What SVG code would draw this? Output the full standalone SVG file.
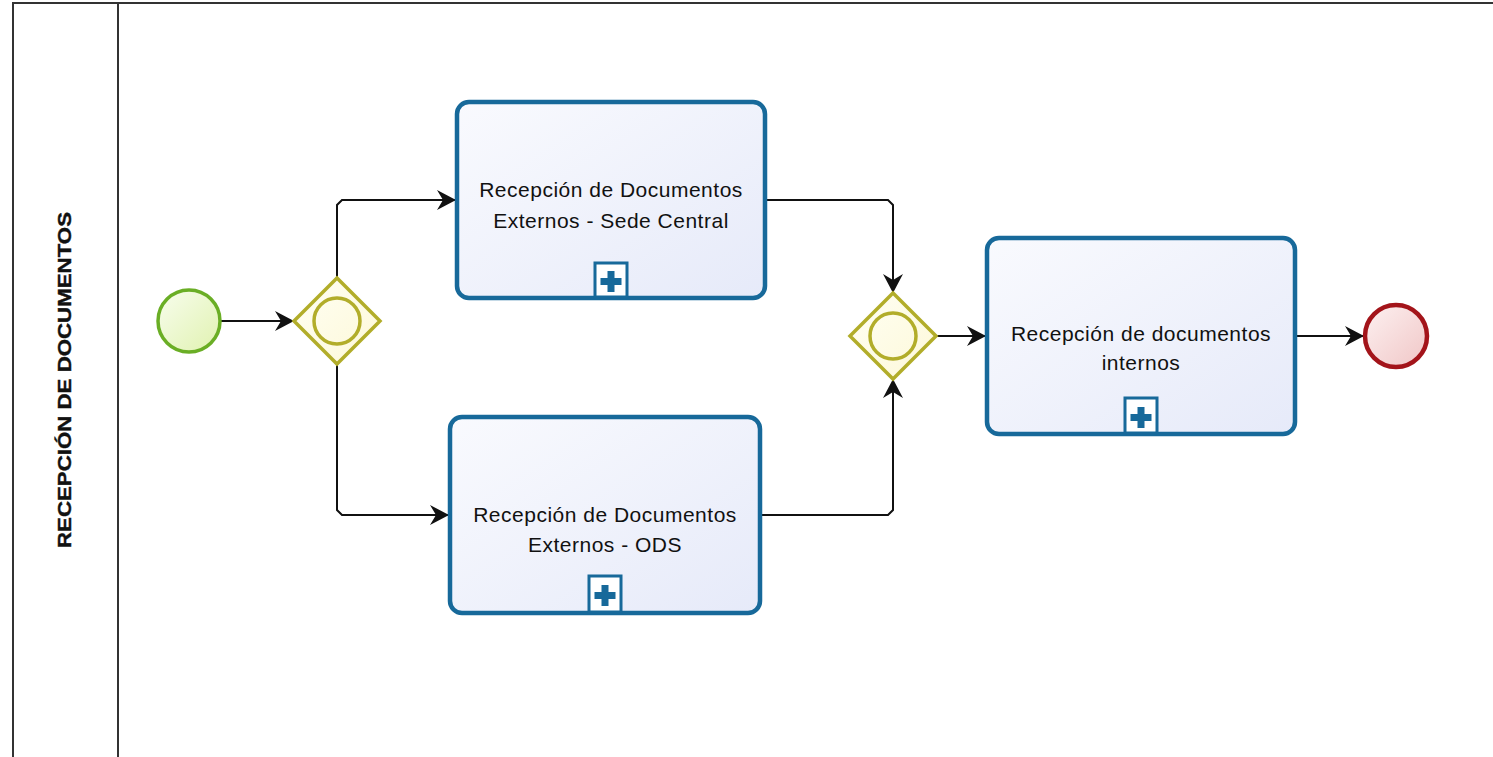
<svg xmlns="http://www.w3.org/2000/svg" width="1493" height="757" viewBox="0 0 1493 757">
<style>
.pool{fill:none;stroke:#333;stroke-width:2}
.task{stroke:#17699a;stroke-width:4.5;fill:url(#gTask)}
.mk{fill:#fff;stroke:#17699a;stroke-width:3}
.plus{fill:#17699a}
.tt{font-family:"Liberation Sans",Arial,sans-serif;font-size:21px;fill:#111;text-anchor:middle;letter-spacing:0.5px}
.gw{fill:url(#gGw);stroke:#b2ad2a;stroke-width:3.5}
.gwi{fill:none;stroke:#b2ad2a;stroke-width:3.5}
.flow{fill:none;stroke:#111;stroke-width:2;marker-end:url(#arr)}
.lane{font-family:"Liberation Sans",Arial,sans-serif;font-size:19px;font-weight:bold;fill:#111;text-anchor:middle;stroke:#111;stroke-width:0.4}
</style>
<defs>
<linearGradient id="gTask" x1="0" y1="0" x2="1" y2="1"><stop offset="0" stop-color="#f9fafe"/><stop offset="1" stop-color="#e6eaf9"/></linearGradient>
<linearGradient id="gStart" x1="0" y1="0" x2="1" y2="1"><stop offset="0" stop-color="#f8fdee"/><stop offset="1" stop-color="#e0f2b0"/></linearGradient>
<linearGradient id="gGw" x1="0" y1="0" x2="1" y2="1"><stop offset="0" stop-color="#fffff4"/><stop offset="1" stop-color="#fdf8d8"/></linearGradient>
<linearGradient id="gEnd" x1="0" y1="0" x2="1" y2="1"><stop offset="0" stop-color="#fdf1f1"/><stop offset="1" stop-color="#f0c6c6"/></linearGradient>
<marker id="arr" markerUnits="userSpaceOnUse" markerWidth="20" markerHeight="20" refX="19" refY="10" orient="auto">
<path d="M0,0 L19,10 L0,20 L6,10 Z" fill="#111"/>
</marker>
</defs>
<rect width="1493" height="757" fill="#fff"/>
<g id="pool">
<path class="pool" d="M1493,3 L13,3 L13,757"/>
<line class="pool" x1="118" y1="3" x2="118" y2="757"/>
<text class="lane" transform="translate(71,380) rotate(-90)" textLength="336" lengthAdjust="spacingAndGlyphs">RECEPCIÓN DE DOCUMENTOS</text>
</g>
<g id="connectors">
<path class="flow" d="M221,321 L294,321"/>
<path class="flow" d="M337,278 L337,205 L342,200 L456,200"/>
<path class="flow" d="M337,364 L337,510 L342,515 L449,515"/>
<path class="flow" d="M765,200 L888,200 L893,205 L893,293"/>
<path class="flow" d="M760,515 L888,515 L893,510 L893,379"/>
<path class="flow" d="M935,336 L986,336"/>
<path class="flow" d="M1295,336 L1364,336"/>
</g>
<g id="start">
<circle cx="189" cy="321" r="31" fill="url(#gStart)" stroke="#6aae25" stroke-width="3.5"/>
</g>
<g id="gateway1">
<polygon class="gw" points="337,278 380,321 337,364 294,321"/>
<circle class="gwi" cx="337" cy="321" r="23"/>
</g>
<g id="task1">
<rect class="task" x="457" y="102" width="308" height="196" rx="12"/>
<text class="tt" x="611" y="197">Recepción de Documentos</text>
<text class="tt" x="611" y="228">Externos - Sede Central</text>
<rect class="mk" x="595" y="263" width="32" height="34"/>
<path class="plus" d="M607.5,271 h7 v7 h7 v7 h-7 v7 h-7 v-7 h-7 v-7 h7 Z"/>
</g>
<g id="task2">
<rect class="task" x="450" y="417" width="310" height="196" rx="12"/>
<text class="tt" x="605" y="522">Recepción de Documentos</text>
<text class="tt" x="605" y="552">Externos - ODS</text>
<rect class="mk" x="589" y="576" width="32" height="36"/>
<path class="plus" d="M601.5,585 h7 v7 h7 v7 h-7 v7 h-7 v-7 h-7 v-7 h7 Z"/>
</g>
<g id="gateway2">
<polygon class="gw" points="893,293 936,336 893,379 850,336"/>
<circle class="gwi" cx="893" cy="336" r="23"/>
</g>
<g id="task3">
<rect class="task" x="987" y="238" width="308" height="196" rx="12"/>
<text class="tt" x="1141" y="341">Recepción de documentos</text>
<text class="tt" x="1141" y="370">internos</text>
<rect class="mk" x="1125" y="398" width="32" height="35"/>
<path class="plus" d="M1137.5,407 h7 v7 h7 v7 h-7 v7 h-7 v-7 h-7 v-7 h7 Z"/>
</g>
<g id="end">
<circle cx="1396" cy="336" r="31" fill="url(#gEnd)" stroke="#a3141a" stroke-width="4.5"/>
</g>
</svg>
